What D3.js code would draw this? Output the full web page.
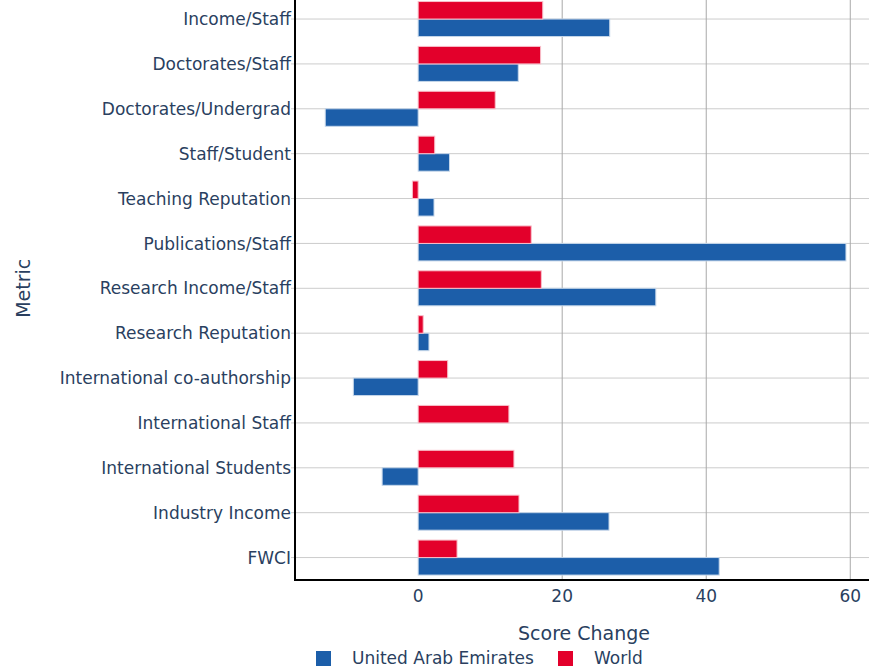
<!DOCTYPE html>
<html>
<head>
<meta charset="utf-8">
<script src="https://d3js.org/d3.v7.min.js"></script>
<style>
	body { margin: 0; background: #fff; }
	svg { display: block; font-family: Verdana, "DejaVu Sans", sans-serif; }
	.lbl { fill: #2a3f5f; font-size: 17px; }
	.ttl { fill: #2a3f5f; font-size: 19px; }
</style>
</head>
<body>
<div id="chart"></div>

<script>
// metrics, top to bottom
var metrics = ["Income/Staff", "Doctorates/Staff", "Doctorates/Undergrad", "Staff/Student",
	"Teaching Reputation", "Publications/Staff", "Research Income/Staff", "Research Reputation",
	"International co-authorship", "International Staff", "International Students",
	"Industry Income", "FWCI"];
var uaeValues   = [26.6, 13.9, -12.9, 4.35, 2.2, 59.4, 33.0, 1.5, -9.0, 0, -5.0, 26.5, 41.8];
var worldValues = [17.3, 17.0, 10.7, 2.3, -0.8, 15.7, 17.1, 0.7, 4.1, 12.6, 13.3, 14.0, 5.4];
var seriesNames = ["United Arab Emirates", "World"];
var seriesColors = ["#1c5ea9", "#e3002b"];
var xTicks = [0, 20, 40, 60];

var W = 869, H = 671;
var plotL = 295, plotR = 869, plotT = -3.4, plotB = 580;

var svg = d3.select("#chart").append("svg")
	.attr("width", W).attr("height", H);

var x = d3.scaleLinear().domain([-17.1, 62.6]).range([plotL, plotR]);
var y = d3.scaleBand().domain(metrics).range([plotT, plotB])
	.paddingInner(0.22).paddingOuter(0.11);
// World on top, UAE below within each band
var sub = d3.scaleBand().domain(["World", "United Arab Emirates"]).range([0, y.bandwidth()]);

// horizontal grid at each category
svg.append("g").selectAll("line").data(metrics).enter().append("line")
	.attr("x1", plotL - 4).attr("x2", plotR)
	.attr("y1", function(d){ return y(d) + y.bandwidth()/2; })
	.attr("y2", function(d){ return y(d) + y.bandwidth()/2; })
	.attr("stroke", "#cccccc").attr("stroke-width", 1);

// vertical grid
svg.append("g").selectAll("line").data(xTicks.filter(function(t){ return t !== 0; })).enter().append("line")
	.attr("x1", function(d){ return x(d); }).attr("x2", function(d){ return x(d); })
	.attr("y1", 0).attr("y2", plotB)
	.attr("stroke", "#a9a9a9").attr("stroke-width", 1);

var rows = [];
metrics.forEach(function(m, i){
	rows.push({m: m, s: "United Arab Emirates", v: uaeValues[i], c: seriesColors[0]});
	rows.push({m: m, s: "World", v: worldValues[i], c: seriesColors[1]});
});

svg.append("g").selectAll("rect").data(rows).enter().append("rect")
	.attr("x", function(d){ return x(Math.min(0, d.v)); })
	.attr("width", function(d){ return Math.abs(x(d.v) - x(0)); })
	.attr("y", function(d){ return y(d.m) + sub(d.s); })
	.attr("height", sub.bandwidth())
	.attr("fill", function(d){ return d.c; })
	.attr("stroke", function(d){ return d3.interpolateRgb(d.c, "#fff")(0.75); })
	.attr("stroke-width", 1);

// axis lines
svg.append("line").attr("x1", plotL).attr("x2", plotL).attr("y1", 0).attr("y2", plotB + 1)
	.attr("stroke", "#000").attr("stroke-width", 2);
svg.append("line").attr("x1", plotL - 1).attr("x2", plotR).attr("y1", plotB).attr("y2", plotB)
	.attr("stroke", "#000").attr("stroke-width", 2);

// y labels
svg.append("g").selectAll("text").data(metrics).enter().append("text")
	.attr("class", "lbl")
	.attr("x", plotL - 4)
	.attr("y", function(d){ return y(d) + y.bandwidth()/2; })
	.attr("dy", "0.36em")
	.attr("text-anchor", "end")
	.text(function(d){ return d; });

// x tick labels
svg.append("g").selectAll("text").data(xTicks).enter().append("text")
	.attr("class", "lbl")
	.attr("x", function(d){ return x(d); })
	.attr("y", 602)
	.attr("text-anchor", "middle")
	.text(function(d){ return d; });

// axis titles
svg.append("text").attr("class", "ttl")
	.attr("x", (plotL + plotR)/2 + 2).attr("y", 640)
	.attr("text-anchor", "middle").text("Score Change");
svg.append("text").attr("class", "ttl")
	.attr("transform", "translate(30," + ((plotT + plotB)/2) + ") rotate(-90)")
	.attr("text-anchor", "middle").text("Metric");

// legend
var legX = [316, 558];
var leg = svg.append("g").selectAll("g").data(seriesNames).enter().append("g")
	.attr("transform", function(d, i){ return "translate(" + legX[i] + ",651)"; });
leg.append("rect").attr("width", 15).attr("height", 15)
	.attr("fill", function(d, i){ return seriesColors[i]; });
leg.append("text").attr("class", "lbl")
	.attr("x", 36).attr("y", 13)
	.text(function(d){ return d; });
</script>
</body>
</html>
